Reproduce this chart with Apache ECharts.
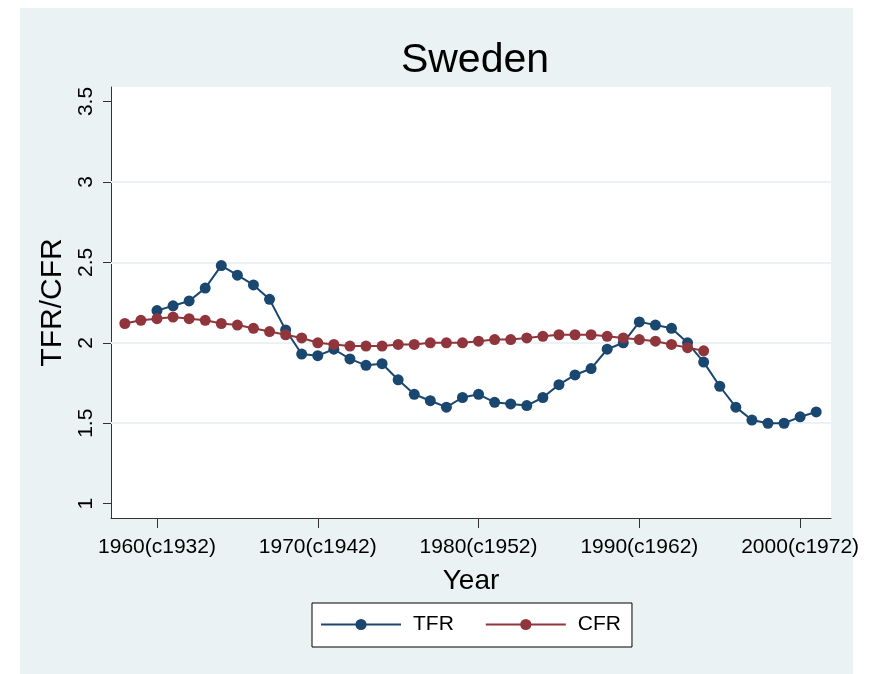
<!DOCTYPE html>
<html>
<head>
<meta charset="utf-8">
<script src="https://cdn.jsdelivr.net/npm/echarts@6/dist/echarts.min.js"></script>
<style>
  html, body { margin: 0; padding: 0; background: #ffffff; }
  #chart { width: 874px; height: 674px; }
</style>
</head>
<body>
<div id="chart"></div>
<script>
// TFR by calendar year
var tfrYears = [1960, 1961, 1962, 1963, 1964, 1965, 1966, 1967, 1968, 1969,
  1970, 1971, 1972, 1973, 1974, 1975, 1976, 1977, 1978, 1979,
  1980, 1981, 1982, 1983, 1984, 1985, 1986, 1987, 1988, 1989,
  1990, 1991, 1992, 1993, 1994, 1995, 1996, 1997, 1998, 1999,
  2000, 2001];
var tfrValues = [2.20, 2.23, 2.26, 2.34, 2.48, 2.42, 2.36, 2.27, 2.08, 1.93,
  1.92, 1.96, 1.90, 1.86, 1.87, 1.77, 1.68, 1.64, 1.60, 1.66,
  1.68, 1.63, 1.62, 1.61, 1.66, 1.74, 1.80, 1.84, 1.96, 2.00,
  2.13, 2.11, 2.09, 2.00, 1.88, 1.73, 1.60, 1.52, 1.50, 1.50,
  1.54, 1.57];

// CFR of cohort (year - 28)
var cfrYears = [1958, 1959, 1960, 1961, 1962, 1963, 1964, 1965, 1966, 1967,
  1968, 1969, 1970, 1971, 1972, 1973, 1974, 1975, 1976, 1977,
  1978, 1979, 1980, 1981, 1982, 1983, 1984, 1985, 1986, 1987,
  1988, 1989, 1990, 1991, 1992, 1993, 1994];
var cfrValues = [2.12, 2.14, 2.15, 2.16, 2.15, 2.14, 2.12, 2.11, 2.09, 2.07,
  2.05, 2.03, 2.00, 1.99, 1.98, 1.98, 1.98, 1.99, 1.99, 2.00,
  2.00, 2.00, 2.01, 2.02, 2.02, 2.03, 2.04, 2.05, 2.05, 2.05,
  2.04, 2.03, 2.02, 2.01, 1.99, 1.97, 1.95];

var xTicks = [1960, 1970, 1980, 1990, 2000];
var xTickLabels = ["1960(c1932)", "1970(c1942)", "1980(c1952)", "1990(c1962)", "2000(c1972)"];
var yTicks = [1, 1.5, 2, 2.5, 3, 3.5];
var yGridLines = [1.5, 2, 2.5, 3];

var navy = "#1a476f";
var maroon = "#90353b";
var bg = "#eaf2f3";
var font = "Liberation Sans, Arial, sans-serif";

function pairs(xs, ys) {
  var out = [];
  for (var i = 0; i < xs.length; i++) {
    out.push([xs[i], ys[i]]);
  }
  return out;
}

var myChart = echarts.init(document.getElementById("chart"), null, { renderer: "canvas" });

var option = {
  animation: false,
  backgroundColor: "#ffffff",
  textStyle: { fontFamily: font },
  graphic: [{
    type: "rect",
    z: -10,
    shape: { x: 20, y: 8, width: 833, height: 666 },
    style: { fill: bg }
  }],
  title: {
    text: "Sweden",
    left: 470,
    textAlign: "center",
    top: 35,
    textStyle: { fontFamily: font, fontSize: 41, fontWeight: "normal", color: "#000" }
  },
  grid: {
    left: 111,
    top: 87,
    right: 43,
    bottom: 156,
    show: true,
    backgroundColor: "#ffffff",
    borderWidth: 0
  },
  legend: {
    data: ["TFR", "CFR"],
    left: 312,
    top: 603,
    padding: [11, 11, 12, 8],
    itemWidth: 80,
    itemHeight: 14,
    itemGap: 31,
    borderColor: "#000",
    borderWidth: 1,
    backgroundColor: "#ffffff",
    textStyle: { fontFamily: font, fontSize: 21, color: "#000", padding: [0, 0, 0, 7] }
  },
  xAxis: {
    type: "value",
    min: 1957.14,
    max: 2001.92,
    name: "Year",
    nameLocation: "middle",
    nameGap: 49,
    nameTextStyle: { fontFamily: font, fontSize: 28, color: "#000" },
    axisLine: { onZero: false, lineStyle: { color: "#333", width: 1 } },
    axisTick: { show: true, length: 10, customValues: xTicks, lineStyle: { color: "#333" } },
    axisLabel: {
      customValues: xTicks,
      margin: 19,
      fontFamily: font,
      fontSize: 21,
      color: "#000",
      formatter: function (v) {
        var i = xTicks.indexOf(Math.round(v));
        return i >= 0 ? xTickLabels[i] : "";
      }
    },
    splitLine: { show: false }
  },
  yAxis: {
    type: "value",
    min: 0.911,
    max: 3.59,
    name: "TFR/CFR",
    nameLocation: "middle",
    nameGap: 36,
    nameTextStyle: { fontFamily: font, fontSize: 30, color: "#000" },
    axisLine: { show: true, onZero: false, lineStyle: { color: "#333", width: 1 } },
    axisTick: { show: true, length: 8, customValues: yTicks, lineStyle: { color: "#333" } },
    axisLabel: {
      customValues: yTicks,
      rotate: 90,
      margin: 14,
      fontFamily: font,
      fontSize: 21,
      color: "#000"
    },
    splitLine: { show: false }
  },
  series: [
    {
      name: "grid",
      type: "line",
      data: [],
      z: 1,
      silent: true,
      markLine: {
        silent: true,
        symbol: "none",
        label: { show: false },
        lineStyle: { color: bg, width: 2, type: "solid" },
        data: yGridLines.map(function (v) { return { yAxis: v }; })
      }
    },
    {
      name: "TFR",
      type: "line",
      zlevel: 1,
      z: 3,
      data: pairs(tfrYears, tfrValues),
      symbol: "circle",
      symbolSize: 11,
      lineStyle: { color: navy, width: 2 },
      itemStyle: { color: navy }
    },
    {
      name: "CFR",
      type: "line",
      zlevel: 1,
      z: 3,
      data: pairs(cfrYears, cfrValues),
      symbol: "circle",
      symbolSize: 11,
      lineStyle: { color: maroon, width: 2 },
      itemStyle: { color: maroon }
    }
  ]
};

myChart.setOption(option);
</script>
</body>
</html>
